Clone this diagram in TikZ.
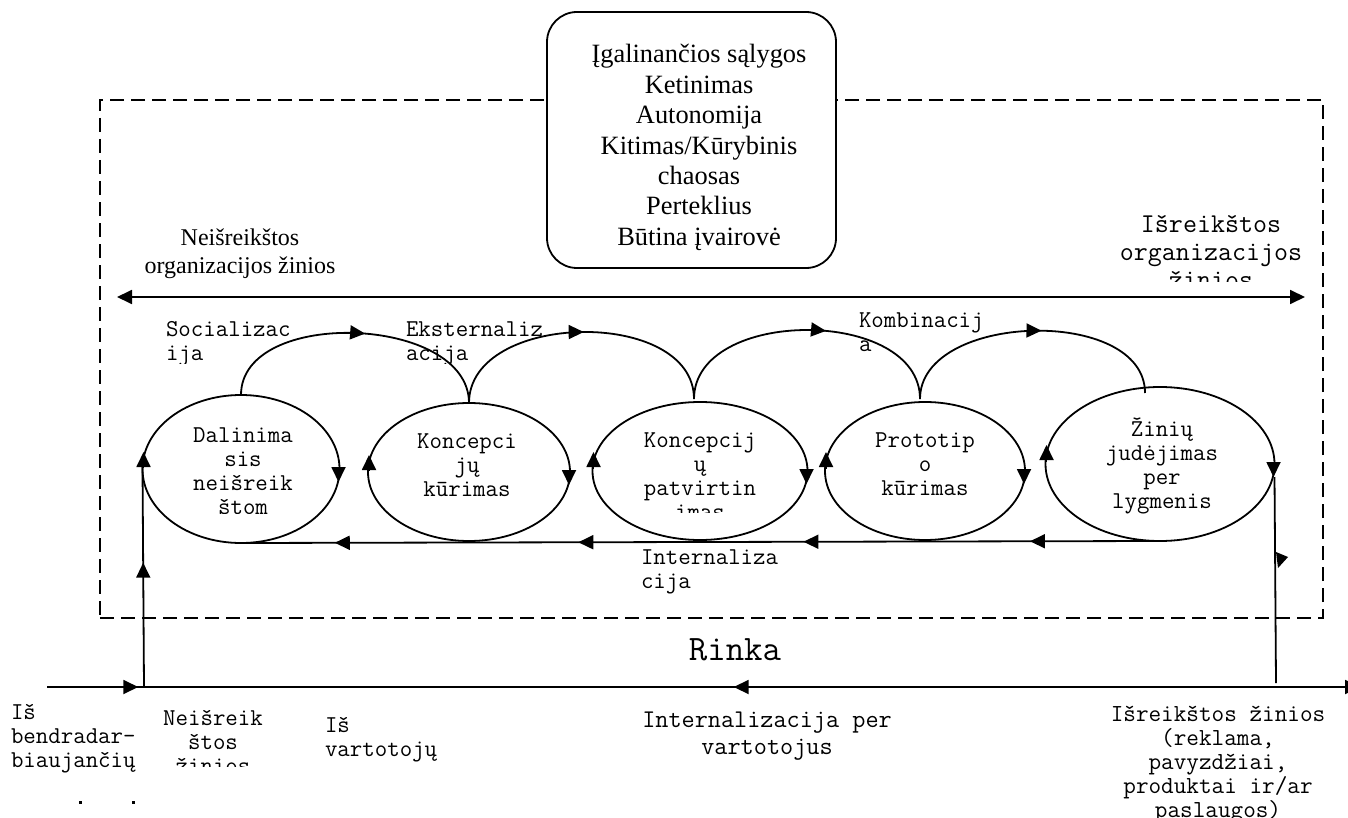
\documentclass[tikz,border=0pt]{standalone}
\usepackage{fontspec}
\setmainfont{Liberation Serif}
\usetikzlibrary{arrows.meta,decorations.markings,shapes.geometric,calc}

% font sizes (1pt = 1 unit of the picture); \ttfamily is Latin Modern Mono
\newcommand\serifA{\rmfamily\fontsize{26.4}{30.4}\selectfont}
\newcommand\serifB{\rmfamily\fontsize{24}{28}\selectfont}
\newcommand\monoA{\ttfamily\fontsize{24.2}{24}\selectfont}
\newcommand\monoB{\ttfamily\fontsize{27.2}{28}\selectfont}
\newcommand\monoC{\ttfamily\fontsize{25.5}{27}\selectfont}
\newcommand\monoD{\ttfamily\fontsize{24.5}{23.5}\selectfont}
\newcommand\monoBig{\ttfamily\fontsize{35.8}{40}\selectfont}
% stacked lines with equal row heights
\newcommand\cbox[1]{\begin{tabular}{@{}c@{}}#1\end{tabular}}
\newcommand\lbox[1]{\begin{tabular}{@{}l@{}}#1\end{tabular}}

\tikzset{
  >={Triangle[length=15pt,width=14pt]},
  flow/.style={line width=1.8pt},
  ell/.style={ellipse, draw, line width=1.8pt, inner sep=0pt, outer sep=0pt},
  txt/.style={inner sep=0pt, outer sep=0pt},
  sidetip/.style={line width=1.8pt, -{Triangle[length=15pt,width=14pt]}},
  midarrow/.style={decoration={markings, mark=at position #1 with {\arrow{>}}}, postaction=decorate},
}
% clockwise arrowheads on both sides of an ellipse node
\newcommand\turnarrows[2]{%
  \draw[sidetip] ($(#1.west)+(1,2)$) -- ($(#1.west)+(1,#2)$);
  \draw[sidetip] ($(#1.east)+(-1,1)$) -- ($(#1.east)+(-1,-13)$);
}

\begin{document}
\begin{tikzpicture}[x=1pt,y=1pt]
\useasboundingbox (0,0) rectangle (1348,-818);

% organisation frame
\node[draw, line width=1.8pt, dash pattern=on 14pt off 7pt, minimum width=1223pt,
      minimum height=518pt, inner sep=0pt] (org) at (711.5,-359) {};

% enabling conditions
\node[draw, fill=white, line width=1.8pt, rounded corners=30pt, minimum width=289pt,
      minimum height=256pt, inner sep=0pt] (cond) at (691.5,-140) {};
\node[txt, font=\serifA] (condtxt) at (699,-148)
  {\cbox{Įgalinančios sąlygos\\Ketinimas\\Autonomija\\Kitimas/Kūrybinis\\chaosas\\Perteklius\\Būtina įvairovė}};

% tacit / explicit axis
\coordinate (hL) at (117,-297);
\coordinate (hR) at (1305,-297);
\draw[flow,<->] (hL) -- (hR);
\node[txt, font=\serifB] (tacit) at (240,-254) {\cbox{Neišreikštos\\organizacijos žinios}};
\begin{scope}
  \clip (1090,-190) rectangle (1320,-281);
  \node[txt, font=\monoB] (explicit) at (1211,-255) {\cbox{Išreikštos\\organizacijos\\žinios}};
\end{scope}

% phases
\node[ell, minimum width=197pt, minimum height=148pt] (e1) at (241,-469) {};
\node[ell, minimum width=202pt, minimum height=138pt] (e2) at (469,-472) {};
\node[ell, minimum width=215pt, minimum height=138pt] (e3) at (700,-471) {};
\node[ell, minimum width=200pt, minimum height=138pt] (e4) at (925,-471) {};
\node[ell, minimum width=229pt, minimum height=154pt] (e5) at (1160,-464) {};

\turnarrows{e1}{17}
\turnarrows{e2}{17}
\turnarrows{e3}{19}
\turnarrows{e4}{19}
\turnarrows{e5}{19}

\begin{scope}
  \clip (140,-400) rectangle (345,-513);
  \node[txt, font=\monoA] (t1) at (243,-473.5) {\cbox{Dalinima\\sis\\neišreik\\štom}};
\end{scope}
\node[txt, font=\monoA] (t2) at (467,-468) {\cbox{Koncepci\\jų\\kūrimas}};
\begin{scope}
  \clip (590,-400) rectangle (810,-512);
  \node[txt, font=\monoA] (t3) at (700,-478.5) {\cbox{Koncepcij\\ų\\patvirtin\\imas}};
\end{scope}
\node[txt, font=\monoA] (t4) at (925,-466.5) {\cbox{Prototip\\o\\kūrimas}};
\node[txt, font=\monoA] (t5) at (1162,-467.5) {\cbox{\smash{Ž}inių\\judėjimas\\per\\lygmenis}};

% knowledge conversion arcs
\draw[flow, midarrow=0.53] (e1.north) .. controls +(0,88) and +(0,88) .. (e2.north);
\draw[flow, midarrow=0.51] (e2.north) .. controls +(0,92) and +(0,92) .. ([xshift=-6pt,yshift=3pt]e3.north);
\draw[flow, midarrow=0.565] ([xshift=-6pt,yshift=3pt]e3.north) .. controls +(0,92) and +(0,92) .. ([xshift=-5pt,yshift=3pt]e4.north);
\draw[flow, midarrow=0.535] ([xshift=-5pt,yshift=3pt]e4.north) .. controls +(0,87) and +(0,87) .. ([xshift=-15pt,yshift=-6pt]e5.north);

\begin{scope}
  \clip (150,-300) rectangle (330,-363);
  \node[txt, font=\monoA, anchor=west] (soc) at (166,-343.5) {\lbox{Socializac\\ija}};
\end{scope}
\begin{scope}
  \clip (395,-300) rectangle (560,-363);
  \node[txt, font=\monoA, anchor=west] (ext) at (406,-343.5) {\lbox{Eksternaliz\\acija}};
\end{scope}
\node[txt, font=\monoA, anchor=west] (comb) at (859,-334.5) {\lbox{Kombinacij\\a}};

% internalisation return line
\draw[flow, decoration={markings,
    mark=at position 0.1415 with {\arrow{>}},
    mark=at position 0.388 with {\arrow{>}},
    mark=at position 0.633 with {\arrow{>}},
    mark=at position 0.898 with {\arrow{>}}}, postaction=decorate]
  (e5.south) -- (e1.south);
\node[txt, font=\monoA, anchor=west] (intl) at (641,-571.5) {\lbox{Internaliza\\cija}};

% market
\node[txt, font=\monoBig] (market) at (735,-650) {Rinka};
\coordinate (mL) at (47,-687);
\coordinate (mJ) at (144,-687);
\coordinate (mR) at (1360,-687);
\coordinate (rB) at (1276,-683);
\draw[flow, ->, decoration={markings,
    mark=at position 0.0695 with {\arrow{>}},
    mark=at position 0.523 with {\arrowreversed{>}}}, postaction=decorate]
  (mL) -- (mR);
\draw[flow, midarrow=0.56] (mJ) -- ([yshift=4pt]e1.west);
\draw[flow] ([yshift=-13pt]e5.east) -- (rB);
\fill (1276,-552) -- (1288,-557) -- (1278,-568) -- cycle;

% market-side labels
\node[txt, font=\monoA, anchor=west] (partners) at (11,-739) {\lbox{Iš\\bendradar-\\biaujančių}};
\fill (79,-801) rectangle (82,-804);
\fill (132,-801) rectangle (135,-804);
\begin{scope}
  \clip (140,-700) rectangle (290,-766);
  \node[txt, font=\monoA] (tacitk) at (213,-745) {\cbox{Neišreik\\štos\\žinios}};
\end{scope}
\node[txt, font=\monoA, anchor=west] (users) at (325,-740) {\lbox{Iš\\vartotojų}};
\node[txt, font=\monoC] (intusers) at (767,-735.5) {\cbox{Internalizacija per\\vartotojus}};
\node[txt, font=\monoD] (explk) at (1218,-765)
  {\cbox{Išreikštos žinios\\(reklama,\\pavyzdžiai,\\produktai ir/ar\\paslaugos)}};
\end{tikzpicture}
\end{document}
